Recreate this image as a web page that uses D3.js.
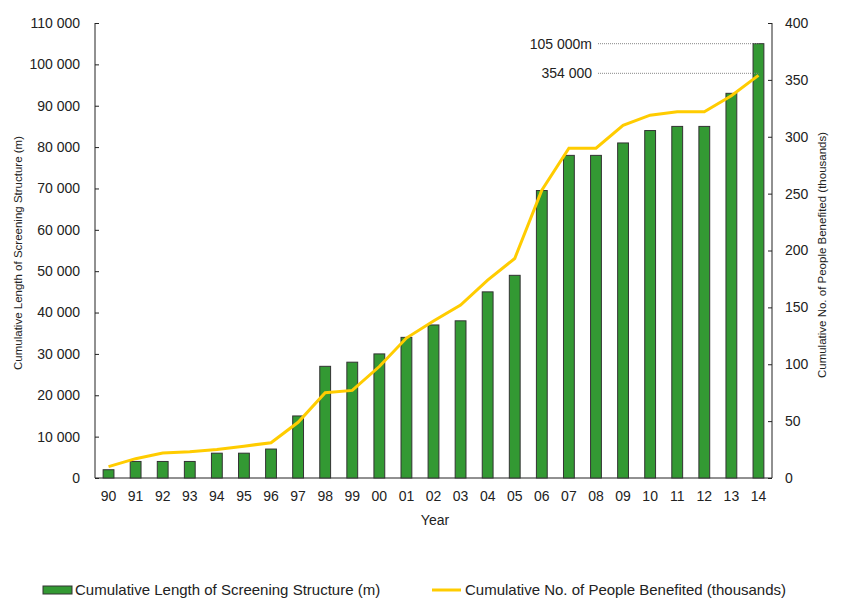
<!DOCTYPE html>
<html>
<head>
<meta charset="utf-8">
<script src="https://cdn.jsdelivr.net/npm/d3@7"></script>
<style>
    body { margin: 0; background: #fff; }
    svg { font-family: "Liberation Sans", Arial, sans-serif; }
</style>
</head>
<body>
<svg class="main" width="843" height="615"></svg>
<script>
var years = ["90", "91", "92", "93", "94", "95", "96", "97", "98", "99", "00", "01", "02",
    "03", "04", "05", "06", "07", "08", "09", "10", "11", "12", "13", "14"];

// cumulative length of screening structure (m)
var lengths = [2000, 4000, 4000, 4000, 6000, 6000, 7000, 15000, 27000, 28000, 30000, 34000, 37000,
    38000, 45000, 49000, 69500, 78000, 78000, 81000, 84000, 85000, 85000, 93000, 105000];

// cumulative no. of people benefited (thousands)
var people = [10, 17, 22, 23, 25, 28, 31, 49, 75, 77, 98, 123, 138,
    152, 174, 193, 253, 290, 290, 310, 319, 322, 322, 336, 354];

var leftTicks = d3.range(0, 110001, 10000),
    rightTicks = d3.range(0, 401, 50);

var layout = {
    left: 95,
    right: 772,
    top: 23,
    bottom: 478
};

var svg = d3.select(".main"),
    fmt = function(d) { return d3.format(",")(d).replace(/,/g, " "); };

var x = d3.scaleBand().domain(years).range([layout.left, layout.right]).paddingInner(0.6).paddingOuter(0.3);
var yL = d3.scaleLinear().domain([0, 110000]).range([layout.bottom, layout.top]);
var yR = d3.scaleLinear().domain([0, 400]).range([layout.bottom, layout.top]);

/**
 * Axes
 */
var axisL = svg.append("g")
    .attr("transform", "translate(" + layout.left + ",0)")
    .call(d3.axisRight(yL).tickValues(leftTicks).tickSize(4).tickFormat(""));
axisL.select(".domain").attr("d", "M0," + layout.top + "V" + layout.bottom);

svg.append("g").selectAll("text")
    .data(leftTicks)
    .enter()
    .append("text")
    .attr("x", layout.left - 15)
    .attr("y", function(d) { return yL(d); })
    .attr("dy", "0.35em")
    .attr("text-anchor", "end")
    .attr("font-size", 14)
    .attr("fill", "#222")
    .text(fmt);

var axisR = svg.append("g")
    .attr("transform", "translate(" + layout.right + ",0)")
    .call(d3.axisLeft(yR).tickValues(rightTicks).tickSize(4).tickFormat(""));
axisR.select(".domain").attr("d", "M0," + layout.top + "V" + layout.bottom);

svg.append("g").selectAll("text")
    .data(rightTicks)
    .enter()
    .append("text")
    .attr("x", layout.right + 13)
    .attr("y", function(d) { return yR(d); })
    .attr("dy", "0.35em")
    .attr("font-size", 14)
    .attr("fill", "#222")
    .text(function(d) { return d; });

var axisX = svg.append("g")
    .attr("transform", "translate(0," + layout.bottom + ")")
    .call(d3.axisBottom(x).tickSize(0).tickPadding(13));
axisX.select(".domain").attr("d", "M" + layout.left + ",0H" + layout.right);
axisX.selectAll("text")
    .attr("font-size", 14)
    .attr("font-family", "Liberation Sans, Arial, sans-serif")
    .attr("fill", "#222");

svg.selectAll(".domain, .tick line").attr("stroke", "#222");

/**
 * Bars and line
 */
svg.append("g").selectAll("rect")
    .data(lengths)
    .enter()
    .append("rect")
    .attr("x", function(d, i) { return x(years[i]); })
    .attr("y", function(d) { return yL(d); })
    .attr("width", x.bandwidth())
    .attr("height", function(d) { return layout.bottom - yL(d); })
    .attr("fill", "#339933")
    .attr("stroke", "#333")
    .attr("stroke-width", 1);

var line = d3.line()
    .x(function(d, i) { return x(years[i]) + x.bandwidth() / 2; })
    .y(function(d) { return yR(d); });

svg.append("path")
    .datum(people)
    .attr("d", line)
    .attr("fill", "none")
    .attr("stroke", "#FFCC00")
    .attr("stroke-width", 3);

/**
 * Annotations
 */
var last = years.length - 1,
    lastX = x(years[last]) + x.bandwidth() / 2,
    notes = [
        { label: "105 000m", y: yL(lengths[last]) },
        { label: "354 000", y: yR(people[last]) - 2 }
    ];

notes.forEach(function(n) {
    svg.append("line")
        .attr("x1", 598)
        .attr("x2", lastX)
        .attr("y1", n.y)
        .attr("y2", n.y)
        .attr("stroke", "#888")
        .attr("stroke-width", 1)
        .attr("stroke-dasharray", "1,1");
    svg.append("text")
        .attr("x", 592)
        .attr("y", n.y)
        .attr("dy", "0.35em")
        .attr("text-anchor", "end")
        .attr("font-size", 14)
        .attr("fill", "#222")
        .text(n.label);
});

/**
 * Titles
 */
svg.append("text")
    .attr("transform", "translate(22,253) rotate(-90)")
    .attr("text-anchor", "middle")
    .attr("font-size", 11.5)
    .attr("fill", "#222")
    .text("Cumulative Length of Screening Structure (m)");

svg.append("text")
    .attr("transform", "translate(826,255) rotate(-90)")
    .attr("text-anchor", "middle")
    .attr("font-size", 11.5)
    .attr("fill", "#222")
    .text("Cumulative No. of People Benefited (thousands)");

svg.append("text")
    .attr("x", 435)
    .attr("y", 525)
    .attr("text-anchor", "middle")
    .attr("font-size", 14)
    .attr("fill", "#222")
    .text("Year");

/**
 * Legend
 */
var legend = svg.append("g").attr("transform", "translate(0,590)");

legend.append("rect")
    .attr("x", 43)
    .attr("y", -4)
    .attr("width", 29)
    .attr("height", 8)
    .attr("fill", "#339933")
    .attr("stroke", "#333");
legend.append("text")
    .attr("x", 75)
    .attr("dy", "0.35em")
    .attr("font-size", 15)
    .attr("fill", "#222")
    .text("Cumulative Length of Screening Structure (m)");

legend.append("line")
    .attr("x1", 432)
    .attr("x2", 461)
    .attr("stroke", "#FFCC00")
    .attr("stroke-width", 3);
legend.append("text")
    .attr("x", 465)
    .attr("dy", "0.35em")
    .attr("font-size", 15)
    .attr("fill", "#222")
    .text("Cumulative No. of People Benefited (thousands)");
</script>
</body>
</html>
